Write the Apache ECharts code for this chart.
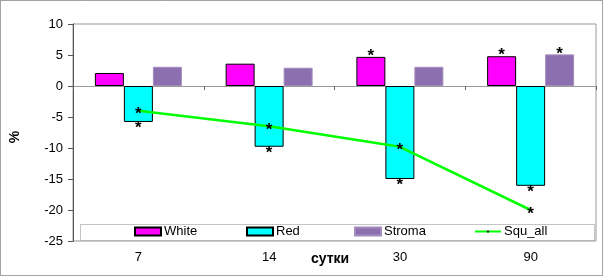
<!DOCTYPE html>
<html><head><meta charset="utf-8">
<script src="https://cdn.jsdelivr.net/npm/echarts@6/dist/echarts.min.js"></script>
<style>html,body{margin:0;padding:0;background:#fff}#c{width:603px;height:276px}</style>
</head><body><div id="c"></div>
<script>
var categories = ['7', '14', '30', '90'];
var whiteVals = [2.1, 3.6, 4.7, 4.8];
var redVals = [-5.8, -9.8, -15.0, -16.1];
var stromaVals = [3.1, 2.95, 3.1, 5.1];
var squVals = [-4.0, -6.5, -9.8, -20.0];
var whiteSig = [0, 0, 1, 1];
var redSig = [1, 1, 1, 1];
var stromaSig = [0, 0, 0, 1];
var squSig = [1, 1, 1, 1];
var yTicks = [-25, -20, -15, -10, -5, 0, 5, 10];

var FONT = 'Liberation Sans, Arial, sans-serif';
function starLabel(sig, pos, off) {
  return {
    show: true, position: pos, distance: 0, offset: off,
    fontFamily: FONT, fontSize: 17, fontWeight: 'bold', color: '#000',
    formatter: function (p) { return sig[p.dataIndex] ? '*' : ''; }
  };
}
var chart = echarts.init(document.getElementById('c'), null, {renderer: 'canvas'});
var legendBase = {orient: 'horizontal', top: 225, padding: 0, itemWidth: 26, itemHeight: 8, itemGap: 0,
  icon: 'rect',
  textStyle: {fontFamily: FONT, fontSize: 13, color: '#000', padding: [0, 0, 0, -2]}, z: 10};
chart.setOption({
  animation: false,
  grid: {left: 73, right: 7, top: 24, bottom: 35, show: true, borderColor: '#999', borderWidth: 1,
         containLabel: false, outerBoundsMode: 'none'},
  graphic: [
    {type: 'rect', shape: {x: 0.5, y: 0.5, width: 602, height: 275},
     style: {fill: null, stroke: '#444', lineWidth: 1, lineDash: [1, 1]}, z: 0},
    {type: 'rect', shape: {x: 80.5, y: 224.5, width: 514, height: 16},
     style: {fill: '#fff', stroke: '#888', lineWidth: 1, lineDash: [1, 1]}, z: 5},
    {type: 'text', x: 15, y: 137, rotation: Math.PI / 2,
     style: {text: '%', fontFamily: FONT, fontSize: 14, fontWeight: 'bold', fill: '#000', align: 'center', verticalAlign: 'middle'}, z: 6},
    {type: 'text', x: 330, y: 259,
     style: {text: 'сутки', fontFamily: FONT, fontSize: 14, fontWeight: 'bold', fill: '#000', align: 'center', verticalAlign: 'middle'}, z: 6}
  ],
  legend: [
    Object.assign({}, legendBase, {left: 134, data: ['White']}),
    Object.assign({}, legendBase, {left: 246, data: ['Red']}),
    Object.assign({}, legendBase, {left: 354, data: ['Stroma']}),
    Object.assign({}, legendBase, {left: 474, icon: null, itemHeight: 3, data: ['Squ_all'],
      itemStyle: {color: '#333', borderWidth: 0}})
  ],
  xAxis: [
    {type: 'category', data: categories, position: 'bottom',
     axisLine: {show: true, onZero: true, lineStyle: {color: '#999', width: 1}},
     axisTick: {show: true, length: 4, lineStyle: {color: '#666'}},
     axisLabel: {show: false}, splitLine: {show: false}},
    {type: 'category', data: categories, position: 'bottom', gridIndex: 0,
     axisLine: {show: false, onZero: false}, axisTick: {show: false},
     axisLabel: {show: true, margin: 10, fontFamily: FONT, fontSize: 13, color: '#000'}}
  ],
  yAxis: {type: 'value', min: yTicks[0], max: yTicks[yTicks.length - 1], interval: 5,
    axisLine: {show: true, lineStyle: {color: '#555'}},
    axisTick: {show: true, length: 5, lineStyle: {color: '#555'}},
    axisLabel: {margin: 10, fontFamily: FONT, fontSize: 13, color: '#000'},
    splitLine: {show: false}},
  series: [
    {name: 'White', type: 'bar', data: whiteVals, barWidth: 29, barGap: '0%',
     itemStyle: {color: '#FF00FF', borderColor: '#000', borderWidth: 1},
     label: starLabel(whiteSig, 'top', [0, 8])},
    {name: 'Red', type: 'bar', data: redVals, barWidth: 29, barGap: '0%',
     itemStyle: {color: '#00FFFF', borderColor: '#000', borderWidth: 1},
     label: starLabel(redSig, 'bottom', [0, -2])},
    {name: 'Stroma', type: 'bar', data: stromaVals, barWidth: 29, barGap: '0%',
     itemStyle: {color: '#8C6FAE', borderColor: '#A48CBE', borderWidth: 1},
     label: starLabel(stromaSig, 'top', [0, 8])},
    {name: 'Squ_all', type: 'line', data: squVals, symbol: 'circle', symbolSize: 0.1, showSymbol: true, z: 4,
     lineStyle: {color: '#00FF00', width: 2.5}, itemStyle: {color: '#00FF00'},
     label: starLabel(squSig, 'inside', [0, 4])}
  ]
});
</script></body></html>
